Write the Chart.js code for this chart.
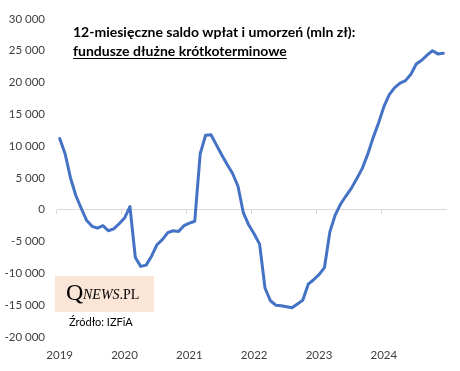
<!DOCTYPE html>
<html>
<head>
<meta charset="utf-8">
<script src="https://cdn.jsdelivr.net/npm/chart.js@4.4.1/dist/chart.umd.min.js"></script>
<style>
  body { margin: 0; background: #fff; }
  #wrap { position: relative; width: 460px; height: 371px; }
  #title { position: absolute; left: 73px; top: 22px; font: bold 14px Lato, sans-serif; line-height: 19px; color: #000; white-space: nowrap; }
  #title u { text-underline-offset: 2px; }
  #logo { position: absolute; left: 55px; top: 276px; width: 99px; height: 36px; background: #fbe5d6; }
  #logo span { position: absolute; font-family: "Liberation Serif", serif; color: #000; }
  #source { position: absolute; left: 69px; top: 315px; font: 11px Lato, sans-serif; color: #000; }
</style>
</head>
<body>
<div id="wrap">
  <canvas id="myChart" width="460" height="371"></canvas>
  <div id="title">12-miesięczne saldo wpłat i umorzeń (mln zł):<br><u>fundusze dłużne krótkoterminowe</u></div>
  <div id="logo"><span style="left:11px;top:3px;font-size:24px;">Q</span><span style="left:28px;top:11px;font-size:14px;"><i>NEWS</i>.PL</span></div>
  <div id="source">Źródło: IZFiA</div>
</div>
<script>
'use strict';
//data
let years = ['2019', '2020', '2021', '2022', '2023', '2024'];
let monthNums = ['01', '02', '03', '04', '05', '06', '07', '08', '09', '10', '11', '12'];
let months = years.flatMap(y => monthNums.map(m => `${y}-${m}`));

// mln zł, 12-month rolling balance
let saldo = [
  11200, 8800, 5000, 2200, 200, -1700, -2600, -2900, -2500, -3300, -3000, -2200,
  -1300, 500, -7500, -8900, -8700, -7300, -5500, -4700, -3600, -3300, -3400, -2500,
  -2100, -1800, 8800, 11700, 11800, 10200, 8600, 7100, 5700, 3700, -500, -2400,
  -3800, -5400, -12300, -14300, -15000, -15100, -15250, -15400, -14800, -14200, -11700, -11000,
  -10200, -9100, -3500, -800, 900, 2200, 3400, 4900, 6500, 8700, 11300, 13600,
  16200, 18100, 19200, 19900, 20300, 21300, 22900, 23500, 24300, 25000, 24500, 24600
];

let yMin = -20000;
let yMax = 30000;
let yStep = 5000;

function formatNum(v){
  let s = Math.abs(v).toString().replace(/\B(?=(\d{3})+(?!\d))/g, ' ');
  return (v < 0 ? '-' : '') + s;
}

const tickFont = { family: 'Lato', size: 11.5 };
const tickColor = '#404040';

const ctx = document.getElementById('myChart');

new Chart(ctx, {
  type: 'line',
  data: {
    labels: months,
    datasets: [{
      data: saldo,
      borderColor: '#4472c4',
      borderWidth: 3,
      pointRadius: 0,
      tension: 0,
      borderJoinStyle: 'round',
      borderCapStyle: 'round'
    }]
  },
  options: {
    responsive: false,
    devicePixelRatio: 1,
    animation: false,
    layout: { padding: { left: 0, right: 14, top: 14, bottom: 0 } },
    plugins: { legend: { display: false }, tooltip: { enabled: false } },
    scales: {
      x: {
        type: 'category',
        offset: true,
        grid: { display: false, drawTicks: false },
        border: { display: false },
        ticks: {
          autoSkip: false,
          maxRotation: 0,
          color: tickColor,
          font: tickFont,
          padding: 11,
          callback: (val, i) => i % 12 === 0 ? years[i / 12] : ''
        },
        afterFit: (scale) => { scale.height = 34; }
      },
      xZero: {
        type: 'category',
        position: { y: 0 },
        offset: true,
        grid: {
          offset: true,
          drawOnChartArea: false,
          tickLength: 4,
          color: (c) => c.index % 12 === 0 ? '#d9d9d9' : 'rgba(0,0,0,0)'
        },
        border: { display: true, color: '#d9d9d9', width: 1 },
        ticks: { display: false, autoSkip: false },
        afterFit: (scale) => { scale.height = 0; }
      },
      y: {
        min: yMin,
        max: yMax,
        grid: { display: false, drawTicks: false },
        border: { display: false },
        ticks: {
          stepSize: yStep,
          color: tickColor,
          font: tickFont,
          padding: 12,
          callback: (v) => formatNum(v)
        },
        afterFit: (scale) => { scale.width = 57; }
      }
    }
  }
});
</script>
</body>
</html>
